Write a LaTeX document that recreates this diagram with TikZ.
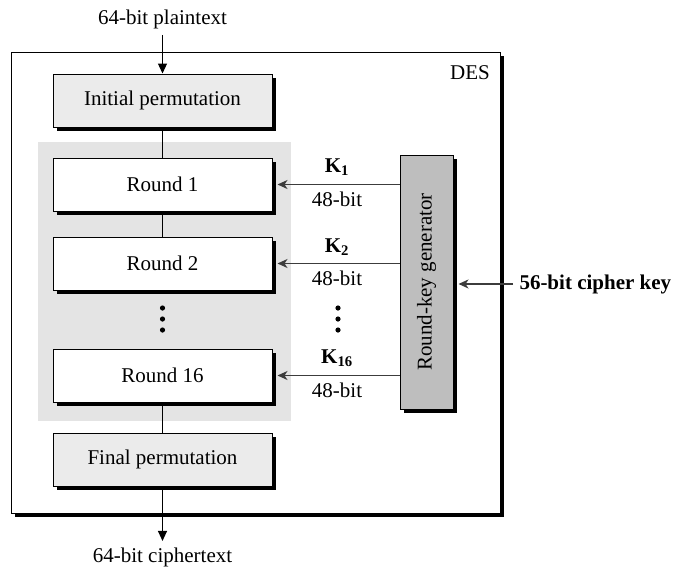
\documentclass[tikz,border=0pt]{standalone}
\usepackage{fontspec}
\setmainfont{Liberation Serif}
\usetikzlibrary{shadows,arrows.meta}
\definecolor{permgray}{RGB}{235,235,235}
\definecolor{regiongray}{RGB}{228,228,228}
\definecolor{keygray}{RGB}{190,190,190}
\definecolor{arrgray}{RGB}{60,60,60}
\begin{document}
\begin{tikzpicture}[x=1pt,y=-1pt, line width=1pt,
  font=\fontsize{21pt}{25pt}\selectfont,
  shd/.style={general shadow={fill=black, shadow xshift=4pt, shadow yshift=-4pt}},
  stage/.style={draw=black, shd, minimum width=219pt, minimum height=53pt, inner sep=0pt},
  perm/.style={stage, fill=permgray},
  rnd/.style={stage, fill=white},
  flow/.style={line width=1.2pt, -{Triangle[length=10pt,width=9pt]}},
  keyarr/.style={draw=arrgray, line width=1.5pt, -{Stealth[length=10pt,width=9pt,inset=3pt]}},
  lbl/.style={anchor=base, inner sep=0pt},
  dot/.style={fill=black}]
\useasboundingbox (0,0) rectangle (688,576);
% outer DES box
\node[draw=black, shd, fill=white, minimum width=489pt, minimum height=461pt, inner sep=0pt] (des) at (255.5,282.5) {};
\node[lbl] (deslbl) at (470,79) {DES};
% gray region of rounds
\node[fill=regiongray, minimum width=253pt, minimum height=279pt, inner sep=0pt] (region) at (164.5,281.5) {};
% stages
\node[perm] (ip) at (162.5,100.5) {Initial permutation};
\node[rnd] (r1) at (162.5,184.5) {Round 1};
\node[rnd] (r2) at (162.5,263.5) {Round 2};
\node[rnd] (r16) at (162.5,375.5) {Round 16};
\node[perm] (fp) at (162.5,459.5) {Final permutation};
% connectors between stages
\draw (ip.south) -- (r1.north);
\draw (r1.south) -- (r2.north);
\draw (r16.south) -- (fp.north);
% dots
\fill[dot] (162.5,308) circle (2.6);
\fill[dot] (162.5,319) circle (2.6);
\fill[dot] (162.5,330) circle (2.6);
\fill[dot] (338,308) circle (2.6);
\fill[dot] (338,319) circle (2.6);
\fill[dot] (338,330) circle (2.6);
% round-key generator
\node[draw=black, shd, fill=keygray, minimum width=53pt, minimum height=254pt, inner sep=0pt] (rkg) at (426.5,282) {};
\node[rotate=90] (rkgtext) at (rkg.center) {Round-key generator};
% key arrows
\draw[keyarr] (rkg.west |- r1.east) -- ([xshift=5pt]r1.east);
\draw[keyarr] (rkg.west |- r2.east) -- ([xshift=5pt]r2.east);
\draw[keyarr] (rkg.west |- r16.east) -- ([xshift=5pt]r16.east);
\node[lbl] (k1) at (337,172) {\textbf{K\textsubscript{1}}};
\node[lbl] (b1) at (337,206) {48-bit};
\node[lbl] (k2) at (337,252) {\textbf{K\textsubscript{2}}};
\node[lbl] (b2) at (337,285) {48-bit};
\node[lbl] (k16) at (337,363) {\textbf{K\textsubscript{16}}};
\node[lbl] (b16) at (337,397) {48-bit};
% cipher key
\node[inner sep=0pt, anchor=base west] (ck) at (519,289) {\textbf{56-bit cipher key}};
\draw[keyarr] ([xshift=-6pt]ck.west) -- ([xshift=5pt]rkg.east |- ck.west);
% plaintext / ciphertext
\node[lbl] (pt) at (162.5,24) {64-bit plaintext};
\node[lbl] (ct) at (162.5,562) {64-bit ciphertext};
\draw[flow, shorten <=6pt] (pt.south) -- (ip.north);
\draw[flow, shorten >=6pt] (fp.south) -- (ct.north);
\end{tikzpicture}
\end{document}
